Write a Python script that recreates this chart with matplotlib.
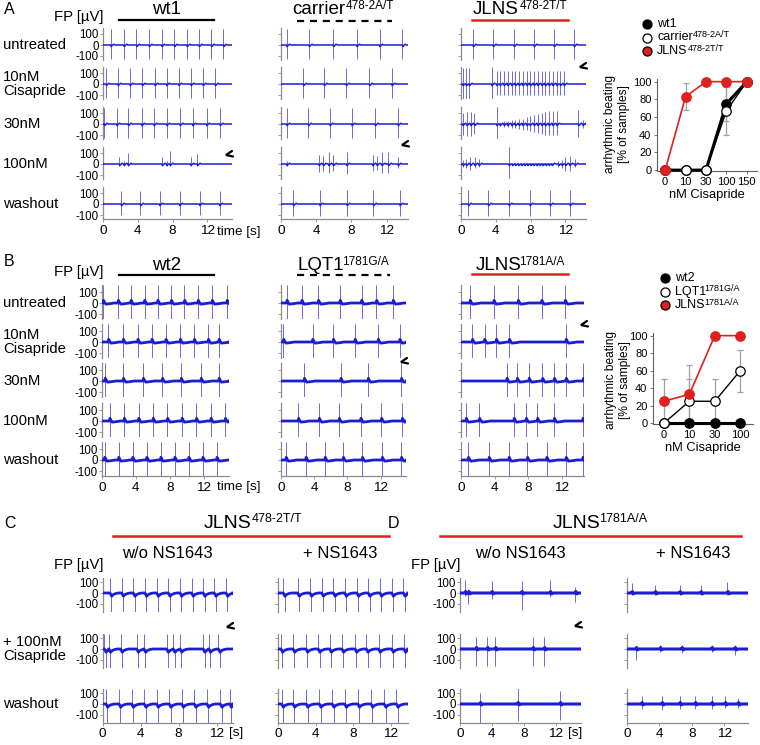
import numpy as np
import matplotlib
matplotlib.use("Agg")
import matplotlib.pyplot as plt

W, H = 760, 745
plt.rcParams["font.family"] = ["Liberation Sans", "DejaVu Sans"]

BASE = "#1c1cd2"     # baseline of the field potential
SPIKE = "#6a6aec"    # thin spikes look lighter after downsampling
GREY = "#8c8c8c"
RED = "#e0201c"

# ---------------- field potential traces: beat times in s, per row ----------------
ROWS_AB = ["untreated", "10nM\nCisapride", "30nM", "100nM", "washout"]

A_WT1 = [[0.9, 2.4, 3.85, 5.3, 6.75, 8.2, 9.65, 11.05, 12.45, 13.85],
         [0.35, 1.72, 3.1, 4.5, 5.95, 7.3, 8.7, 10.1, 11.5, 12.9],
         [0.15, 1.57, 2.9, 4.44, 5.86, 7.32, 8.85, 10.3, 11.9, 13.45],
         [1.88, 2.4, 2.9, 6.8, 7.3, 7.7, 10.1, 10.84],
         [2.1, 4.3, 6.5, 8.8, 11.1, 13.4]]
A_WT1_UP = [150, 150, 150, [60, 25, 100, 60, 25, 120, 60, 90], 120]
A_WT1_DN = [-130, -130, -130, -15, -100]

A_CARRIER = [[0.65, 3.2, 5.95, 8.6, 11.2, 13.8],
             [2.55, 4.9, 7.4, 10.05, 12.6],
             [0.65, 3.1, 5.55, 8.05, 10.7, 13.3],
             [0.65, 4.3, 4.8, 5.4, 5.95, 7.45, 10.4, 10.9, 11.45, 12.2, 13.3],
             [1.4, 4.4, 7.5, 10.5, 13.5]]
A_CARRIER_UP = [150, 150, 150, [30, 80, 70, 110, 80, 110, 80, 70, 110, 110, 60], 130]
A_CARRIER_DN = [-130, -130, -130, [-20, -70, -60, -80, -60, -90, -60, -50, -80, -80, -40], -110]

A_JLNS = [[1.4, 3.7, 6.1, 8.4, 10.7, 13.0],
          [0.2, 0.6, 0.95, 3.52, 4.10, 4.48, 4.94, 5.36, 5.82, 6.25, 6.67, 7.09, 7.55,
           7.97, 8.39, 8.81, 9.27, 9.69, 10.11, 10.54, 11.0, 11.41, 11.84],
          [0.2, 0.66, 1.1, 1.55, 4.1, 4.48, 4.94, 5.36, 5.82, 6.25, 6.67, 7.09, 7.55,
           7.93, 8.39, 8.81, 9.27, 9.69, 10.11, 10.54, 11.0, 13.5, 14.0],
          [0.23, 0.61, 1.07, 1.57, 2.07, 5.52, 5.9, 6.25, 6.6, 6.95, 7.3, 7.65, 8.0,
           8.35, 8.7, 9.05, 9.4, 9.75, 10.1, 10.45, 11.2, 11.6, 12.0, 12.5, 13.1],
          [0.84, 3.14, 5.52, 7.93, 10.23, 12.53]]
A_JLNS_UP = [150,
             [150, 150, 150, 155] + [120] * 19,
             [100, 110, 110, 100, 155, 20, 25, 30, 35, 40, 45, 50, 60, 70, 80, 90,
              100, 110, 120, 120, 120, 130, 40],
             [40, 50, 60, 60, 50, 150] + [10] * 14 + [30, 40, 60, 70, 50],
             130]
A_JLNS_DN = [-130,
             [-140, -140, -140, -140] + [-100] * 19,
             [-100, -110, -110, -90, -140, -20, -25, -30, -35, -40, -45, -50, -55,
              -60, -70, -80, -90, -100, -100, -100, -100, -120, -40],
             [-30, -40, -50, -40, -30, -140] + [-8] * 14 + [-30, -40, -60, -60, -30],
             -110]

B_WT2 = [[0.15, 1.9, 3.4, 5.0, 6.55, 8.15, 9.7, 11.3, 12.95, 14.7],
         [0.75, 2.5, 4.2, 5.85, 7.5, 9.2, 10.85, 12.5, 13.75],
         [0.35, 2.5, 4.85, 7.1, 9.3, 11.65, 13.75],
         [0.9, 2.6, 4.3, 6.0, 7.7, 9.4, 11.1, 12.8, 14.5],
         [0.3, 1.95, 3.6, 5.25, 6.9, 8.55, 10.2, 11.85, 13.5]]
B_LQT1 = [[0.7, 2.5, 4.5, 7.1, 9.7, 11.5, 13.5],
          [0.3, 3.8, 6.3, 8.9, 11.7, 14.3],
          [2.8, 7.2, 10.5, 14.5],
          [2.1, 4.6, 7.0, 9.6, 12.1, 14.6],
          [0.6, 3.0, 5.3, 7.5, 9.8, 12.2, 14.5]]
B_JLNS = [[1.07, 3.9, 6.8, 9.6, 12.4],
          [1.35, 2.8, 4.2, 5.75, 12.5],
          [5.45, 6.7, 8.1, 9.7, 11.1, 12.5, 14.55],
          [0.6, 2.2, 6.3, 7.75, 9.1, 11.1, 14.5],
          [0.87, 3.33, 5.7, 7.9, 10.2, 12.5, 14.5]]

ROWS_CD = ["", "+ 100nM\nCisapride", "washout"]
C_WITHOUT = [[0.79, 2.02, 3.24, 4.47, 5.7, 6.93, 8.16, 9.38, 10.6, 11.77, 13.0],
             [0.2, 0.68, 1.9, 3.6, 4.37, 6.75, 7.45, 8.16, 10.6, 11.2, 12.2],
             [0.37, 1.74, 3.07, 4.4, 5.7, 7.03, 8.34, 9.66, 11.0, 12.4, 13.4]]
C_WITH = [[0.56, 2.1, 3.4, 4.65, 5.9, 7.1, 8.4, 9.6, 10.85, 12.1, 13.35],
          [0.32, 1.6, 2.98, 4.28, 5.5, 6.8, 8.2, 9.4, 10.7, 12.1, 13.4],
          [0.39, 1.6, 3.0, 4.4, 5.77, 7.1, 8.5, 9.9, 11.3, 12.6]]
D_WITHOUT = [[0.62, 1.04, 3.96, 7.7, 11.25, 14.4],
             [2.0, 3.4, 4.4, 9.1, 10.5],
             [2.5, 7.2, 12.5]]
D_WITHOUT_UP = [[120, 20, 110, 110, 120, 60], 110, [100, 150, 120]]
D_WITHOUT_DN = [[-30, -100, -60, -160, -40, -80], -160, [-180, -160, -150]]
D_WITH = [[0.58, 3.46, 6.5, 9.1, 12.4],
          [1.1, 4.07, 6.75, 10.45, 13.3],
          [1.8, 4.3, 6.5, 8.4, 10.45, 12.1, 13.7]]
D_WITH_UP = [[90, 70, 70, 70, 100], [30, 40, 40, 40, 40], [70, 70, 70, 70, 70, 70, 60]]
D_WITH_DN = [[-20, -20, -20, -20, -20], [-100, -30, -40, -30, -60], [-50, -60, -50, -50, -50, -40, -40]]

# ---------------- dose response ----------------
A_CONC = ["0", "10", "30", "100", "150"]
A_WT1_PCT = [0, 0, 0, 75, 100]
A_WT1_ERR = [0, 0, 0, 20, 0]
A_CARRIER_PCT = [0, 0, 0, 67, 100]
A_CARRIER_ERR = [0, 0, 0, 27, 0]
A_JLNS_PCT = [0, 83, 100, 100, 100]
A_JLNS_ERR = [0, 15, 0, 0, 0]

B_CONC = ["0", "10", "30", "100"]
B_WT2_PCT = [0, 0, 0, 0]
B_LQT1_PCT = [0, 25, 25, 60]
B_LQT1_ERR = [0, 25, 25, 24]
B_JLNS_PCT = [25, 33, 100, 100]
B_JLNS_ERR = [25, 33, 0, 0]

# beat shapes on the baseline: (dt after spike, uV)
SHAPE_A = [(0.0, 0), (0.03, -14), (0.12, -8), (0.22, 0), (0.32, 7), (0.45, 0)]
SHAPE_B = [(0.0, 0), (0.03, 24), (0.12, 10), (0.3, -10), (0.8, -6), (1.3, 0)]
SHAPE_C = [(0.0, 0), (0.18, -30), (0.35, -14), (0.6, -5), (0.9, 0)]
SHAPE_D = [(0.0, 0), (0.08, 14), (0.2, -8), (0.4, 0)]

fig = plt.figure(figsize=(W / 100, H / 100), dpi=100)
ov = fig.add_axes([0, 0, 1, 1])
ov.set_xlim(0, W); ov.set_ylim(H, 0); ov.axis("off")
R = fig.canvas.get_renderer()


def px_axes(x0, top, w, h):
    return fig.add_axes([x0 / W, 1 - (top + h) / H, w / W, h / H])


def as_list(v, n):
    return list(v) if np.ndim(v) else [v] * n


def draw_trace(ax, beats, up, dn, shape, lw, t_end, biphasic=False):
    xs, ys = [0.0], [0.0]
    for i, t in enumerate(beats):
        nxt = beats[i + 1] if i + 1 < len(beats) else t_end + 2
        for dt, v in shape:
            tt = t + dt
            if tt < xs[-1]:
                continue
            if dt > 0 and tt > nxt - 0.1:
                break
            xs.append(tt); ys.append(v)
        if ys[-1] != 0:
            xs.append(min(max(xs[-1] + 0.05, nxt - 0.05), t_end)); ys.append(0)
    xs.append(t_end); ys.append(0)
    ax.plot(xs, ys, color=BASE, lw=lw, solid_joinstyle="round", zorder=3)
    b = np.array(beats)
    u, d = as_list(up, len(b)), as_list(dn, len(b))
    if biphasic:
        ax.vlines(b, 0, u, color=SPIKE, lw=0.7, zorder=2)
        ax.vlines(b + 0.14, d, 0, color=SPIKE, lw=0.7, zorder=2)
    else:
        ax.vlines(b, d, u, color=SPIKE, lw=0.7, zorder=2)


def trace_column(x0, pps, t_end, zeros, ylim, beats, ups, dns, shape, lw,
                 labels=True, biphasic=False, k=0.11):
    lo, hi = ylim
    for r, y0 in enumerate(zeros):
        ax = px_axes(x0, y0 - hi * k, t_end * pps, (hi - lo) * k)
        ax.set_xlim(0, t_end); ax.set_ylim(lo, hi)
        ax.patch.set_visible(False)
        draw_trace(ax, beats[r], ups[r], dns[r], shape, lw, t_end, biphasic)
        for s in ("top", "right"):
            ax.spines[s].set_visible(False)
        ax.spines["left"].set_color(GREY); ax.spines["left"].set_linewidth(0.9)
        ax.set_yticks([-100, 0, 100])
        ax.set_yticklabels(["-100", "0", "100"] if labels else [])
        ax.tick_params(axis="y", length=2, width=0.6, color=GREY, labelsize=8.3, pad=1)
        if r == len(zeros) - 1:
            ax.spines["bottom"].set_color(GREY); ax.spines["bottom"].set_linewidth(0.9)
            ax.set_xticks([0, 4, 8, 12])
            ax.tick_params(axis="x", length=2, width=0.6, color=GREY, labelsize=9.7, pad=2)
        else:
            ax.spines["bottom"].set_visible(False)
            ax.set_xticks([])


def sup_text(x, y, base, sup, size, sup_size, ha="center", color="k"):
    t1 = ov.text(0, 0, base, fontsize=size, va="center", color=color)
    t2 = ov.text(0, 0, sup, fontsize=sup_size, va="center", color=color)
    w1 = t1.get_window_extent(R).width
    w2 = t2.get_window_extent(R).width
    kern = -0.22 * sup_size if sup.startswith("1") else 0.3
    xs = x - (w1 + w2 + kern) / 2 if ha == "center" else x
    t1.set_position((xs, y))
    t2.set_position((xs + w1 + kern, y - size * 0.32))


def header(cx, y, base, sup, x0, x1, ly, style):
    if sup:
        sup_text(cx, y, base, sup, 13.5, 8.5)
    else:
        ov.text(cx, y, base, fontsize=13.5, ha="center", va="center")
    if style == "solid":
        ov.plot([x0, x1], [ly, ly], color="k", lw=1.6)
    elif style == "dash":
        ov.plot([x0, x1], [ly, ly], color="k", lw=1.6, ls=(0, (3.2, 2.6)))
    else:
        ov.plot([x0, x1], [ly, ly], color=RED, lw=1.8)


def tick_mark(x, y):
    ov.plot([x + 6, x, x + 7], [y - 4, y, y + 1.5], color="k", lw=1.6,
            solid_capstyle="round", solid_joinstyle="miter")


def row_labels(labels, zeros, size=10.7):
    for lab, y in zip(labels, zeros):
        if lab:
            ov.text(3, y, lab, fontsize=size, ha="left", va="center", linespacing=1.0)


def dose_plot(box, cats, series, errs, xlim, ylab_xy):
    ax = px_axes(*box)
    x = np.arange(len(cats))
    for err, (vals, face, edge, lw) in zip(errs, series):
        if err is not None:
            ax.errorbar(x, vals, yerr=err, fmt="none", ecolor="#a0a0a0",
                        elinewidth=0.9, capsize=2.5, capthick=0.9, zorder=1)
    for z, (vals, face, edge, lw) in enumerate(series):
        ax.plot(x, vals, color=edge, lw=lw, marker="o", ms=6.8, mfc=face, mec=edge,
                mew=0.9, zorder=3 + z, clip_on=False)
    ax.set_xlim(*xlim); ax.set_ylim(-1, 103)
    ax.set_xticks(x); ax.set_xticklabels(cats)
    ax.set_yticks(range(0, 101, 20))
    for s in ("top", "right"):
        ax.spines[s].set_visible(False)
    for s in ("left", "bottom"):
        ax.spines[s].set_color("#606060"); ax.spines[s].set_linewidth(0.8)
    ax.tick_params(length=2.5, width=0.6, color="#606060", labelsize=8, pad=1.5)
    ax.set_xlabel("nM Cisapride", fontsize=9.3, labelpad=2)
    ov.text(ylab_xy[0], ylab_xy[1], "arrhythmic beating\n[% of samples]", rotation=90,
            fontsize=8.6, ha="center", va="center", linespacing=1.15)


def legend(x, y, entries, gap=13.5):
    for i, (face, base, sup) in enumerate(entries):
        yy = y + i * gap
        ov.plot([x], [yy], marker="o", ms=6.5, mfc=face, mec="k", mew=0.9)
        if sup:
            sup_text(x + 10, yy, base, sup, 9, 6.5, ha="left")
        else:
            ov.text(x + 10, yy, base, fontsize=9, va="center")


# ================= panel A =================
ov.text(4, 10, "A", fontsize=11.5, va="center")
ov.text(103, 17, "FP [µV]", fontsize=10.7, ha="right", va="center")
A_ZEROS = [45, 84, 124, 164, 204]
row_labels(ROWS_AB, A_ZEROS)
trace_column(103, 8.7, 14.8, A_ZEROS, (-140, 155), A_WT1, A_WT1_UP, A_WT1_DN, SHAPE_A, 1.1)
trace_column(281, 8.8, 14.4, A_ZEROS, (-140, 155), A_CARRIER, A_CARRIER_UP, A_CARRIER_DN,
             SHAPE_A, 1.1, labels=False)
trace_column(461, 8.7, 14.4, A_ZEROS, (-140, 155), A_JLNS, A_JLNS_UP, A_JLNS_DN, SHAPE_A, 1.1,
             labels=False)
ov.text(217, 232, "time [s]", fontsize=9.7, ha="left", va="center")
header(167, 10, "wt1", None, 119, 214, 20, "solid")
header(343, 10, "carrier", "478-2A/T", 297, 392, 21, "dash")
header(520, 10, "JLNS", "478-2T/T", 472, 568, 20, "red")
tick_mark(226, 155); tick_mark(402, 145); tick_mark(580, 67)

dose_plot((657, 79, 100, 92), A_CONC,
          [(A_WT1_PCT, "k", "k", 2.2), (A_CARRIER_PCT, "w", "k", 1.0), (A_JLNS_PCT, RED, RED, 1.2)],
          [A_WT1_ERR, A_CARRIER_ERR, A_JLNS_ERR], (-0.4, 4.5), (617, 124))
legend(647, 24, [("k", "wt1", None), ("w", "carrier", "478-2A/T"), (RED, "JLNS", "478-2T/T")])

# ================= panel B =================
ov.text(4, 262, "B", fontsize=11.5, va="center")
ov.text(103, 272, "FP [µV]", fontsize=10.7, ha="right", va="center")
B_ZEROS = [303, 342, 381, 421, 460]
row_labels(ROWS_AB, B_ZEROS)
trace_column(102, 8.5, 15.0, B_ZEROS, (-145, 165), B_WT2, [165] * 5, [-145] * 5, SHAPE_B, 2.0)
trace_column(281, 8.3, 15.1, B_ZEROS, (-145, 165), B_LQT1, [165] * 5, [-145] * 5, SHAPE_B, 2.0,
             labels=False)
trace_column(461, 8.4, 14.7, B_ZEROS, (-145, 165), B_JLNS, [165] * 5, [-145] * 5, SHAPE_B, 2.0,
             labels=False)
ov.text(217, 487, "time [s]", fontsize=9.7, ha="left", va="center")
header(167, 266, "wt2", None, 119, 214, 275, "solid")
header(343, 266, "LQT1", "1781G/A", 297, 390, 275, "dash")
header(520, 266, "JLNS", "1781A/A", 472, 568, 274, "red")
tick_mark(401, 362); tick_mark(581, 325)

dose_plot((653, 333, 100, 91), B_CONC,
          [(B_WT2_PCT, "k", "k", 2.2), (B_LQT1_PCT, "w", "k", 1.0), (B_JLNS_PCT, RED, RED, 1.2)],
          [None, B_LQT1_ERR, B_JLNS_ERR], (-0.43, 3.5), (618, 380))
legend(665, 278, [("k", "wt2", None), ("w", "LQT1", "1781G/A"), (RED, "JLNS", "1781A/A")])

# ================= panel C =================
CD_ZEROS = [593, 649, 704]
ov.text(4, 523, "C", fontsize=11.5, va="center")
sup_text(253, 523, "JLNS", "478-2T/T", 14, 9)
ov.plot([113, 389], [536, 536], color=RED, lw=1.8)
ov.text(167, 553, "w/o NS1643", fontsize=12, ha="center", va="center")
ov.text(340, 553, "+ NS1643", fontsize=12, ha="center", va="center")
ov.text(103, 565, "FP [µV]", fontsize=10.7, ha="right", va="center")
row_labels(ROWS_CD, CD_ZEROS)
trace_column(102.5, 9.5, 13.7, CD_ZEROS, (-175, 140), C_WITHOUT, [140] * 3, [-175] * 3,
             SHAPE_C, 2.0, biphasic=True, k=0.108)
trace_column(278, 9.4, 13.8, CD_ZEROS, (-175, 140), C_WITH, [140] * 3, [-175] * 3,
             SHAPE_C, 2.0, labels=False, biphasic=True, k=0.108)
ov.text(229, 733, "[s]", fontsize=9.7, ha="left", va="center")
tick_mark(227, 627)

# ================= panel D =================
ov.text(388, 523, "D", fontsize=11.5, va="center")
sup_text(600, 523, "JLNS", "1781A/A", 14, 9)
ov.plot([440, 741], [536, 536], color=RED, lw=1.8)
ov.text(520, 554, "w/o NS1643", fontsize=12, ha="center", va="center")
ov.text(693, 554, "+ NS1643", fontsize=12, ha="center", va="center")
ov.text(460, 565, "FP [µV]", fontsize=10.7, ha="right", va="center")
trace_column(460, 8.0, 15.1, CD_ZEROS, (-175, 140), D_WITHOUT, D_WITHOUT_UP, D_WITHOUT_DN,
             SHAPE_D, 2.2, k=0.108)
trace_column(627, 8.1, 14.9, CD_ZEROS, (-175, 140), D_WITH, D_WITH_UP, D_WITH_DN,
             SHAPE_D, 2.2, labels=False, k=0.108)
ov.text(568, 733, "[s]", fontsize=9.7, ha="left", va="center")
tick_mark(575, 626)

fig.savefig("out.png", dpi=100)
